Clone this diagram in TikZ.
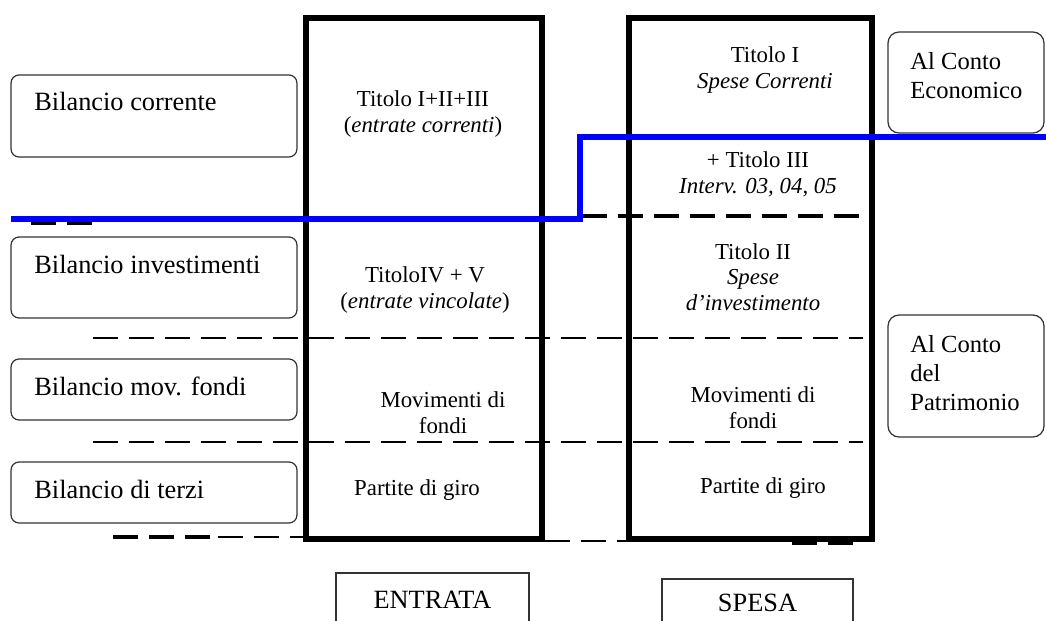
\documentclass[tikz,border=0pt]{standalone}
\usepackage{fontspec}
\setmainfont{Liberation Serif}

\begin{document}
\begin{tikzpicture}[x=0.02cm,y=-0.02cm]
 \tikzstyle{colonna}=[draw,line width=3.4pt,minimum height=10.42cm,inner sep=0pt]
 \tikzstyle{bilancio}=[draw=black!80,line width=0.7pt,rounded corners=0.16cm,minimum width=5.72cm,inner sep=0pt]
 \tikzstyle{conto}=[draw=black!80,line width=0.7pt,rounded corners=0.22cm,minimum width=3.12cm,inner sep=0pt]
 \tikzstyle{etich}=[anchor=base west,inner sep=0pt,align=left,font=\fontsize{15}{16.4}\selectfont]
 \tikzstyle{voce}=[anchor=base,inner sep=0pt,align=center,font=\fontsize{13}{14.4}\selectfont]
 \tikzstyle{piede}=[draw=black!80,line width=0.7pt,inner sep=0pt,font=\fontsize{15}{17}\selectfont]
 \tikzstyle{tratt}=[dash pattern=on 0.5cm off 0.22cm,line width=0.8pt]
 \tikzstyle{trattg}=[dash pattern=on 0.5cm off 0.22cm,line width=1.8pt]
 \tikzstyle{confine}=[blue,line width=3.4pt]
 \useasboundingbox (0,0) rectangle (1046,620);
 % linee tratteggiate
 \draw[trattg] (31,223) -- (93,223);
 \draw[trattg] (582,216) -- (863,216);
 \draw[tratt] (93,338) -- (863,338);
 \draw[tratt] (93,442) -- (863,442);
 \draw[trattg] (113,537) -- (212,537);
 \draw[tratt] (218,537) -- (306,537);
 \draw[tratt] (545,541) -- (626,541);
 \draw[trattg] (792,543) -- (853,543);
 % colonne
 \node[colonna,minimum width=4.72cm] (E) at (424,278.5) {};
 \node[colonna,minimum width=4.86cm] (S) at (750.5,278.5) {};
 % bilanci
 \node[bilancio,minimum height=1.64cm] (B1) at (154,116) {};
 \node[bilancio,minimum height=1.62cm] (B2) at (154,277.5) {};
 \node[bilancio,minimum height=1.22cm] (B3) at (154,389.5) {};
 \node[bilancio,minimum height=1.22cm] (B4) at (154,492.5) {};
 \node[etich] (B1t) at (34,110) {Bilancio corrente};
 \node[etich] (B2t) at (34,273) {Bilancio investimenti};
 \node[etich] (B3t) at (34,395) {Bilancio mov. fondi};
 \node[etich] (B4t) at (34,498) {Bilancio di terzi};
 % conti
 \node[conto,minimum height=2.02cm] (C1) at (966,82.5) {};
 \node[conto,minimum height=2.44cm] (C2) at (966,376) {};
 \node[etich,font=\fontsize{14}{16.4}\selectfont] (C1t) at (910,98) {Al Conto\\Economico};
 \node[etich,font=\fontsize{14}{16.4}\selectfont] (C2t) at (910,410) {Al Conto\\del\\Patrimonio};
 % entrata
 \node[voce] (E1) at (423,132) {Titolo I+II+III\\(\textit{entrate correnti})};
 \node[voce] (E2) at (425,308) {TitoloIV + V\\(\textit{entrate vincolate})};
 \node[voce] (E3) at (443,433) {Movimenti di\\fondi};
 \node[voce] (E4) at (417,495) {Partite di giro};
 % spesa
 \node[voce] (S1) at (765,88) {Titolo I\\\textit{Spese Correnti}};
 \node[voce] (S2) at (758,193) {+ Titolo III\\\textit{Interv. 03, 04, 05}};
 \node[voce] (S3) at (753,310) {Titolo II\\\textit{Spese}\\\textit{d'investimento}};
 \node[voce] (S4) at (753,428) {Movimenti di\\fondi};
 \node[voce] (S5) at (763,493) {Partite di giro};
 % intestazioni
 \node[piede,minimum width=3.86cm,minimum height=1.06cm] (EN) at (432.5,599.5) {ENTRATA};
 \node[piede,minimum width=3.82cm,minimum height=0.94cm] (SP) at (757.5,602.5) {SPESA};
 % confine corrente
 \coordinate (L0) at (11,219);
 \coordinate (L1) at (580,219);
 \coordinate (L2) at (580,137);
 \coordinate (L3) at (1046,137);
 \draw[confine] (L0) -- (L1) -- (L2) -- (L3);
\end{tikzpicture}
\end{document}
